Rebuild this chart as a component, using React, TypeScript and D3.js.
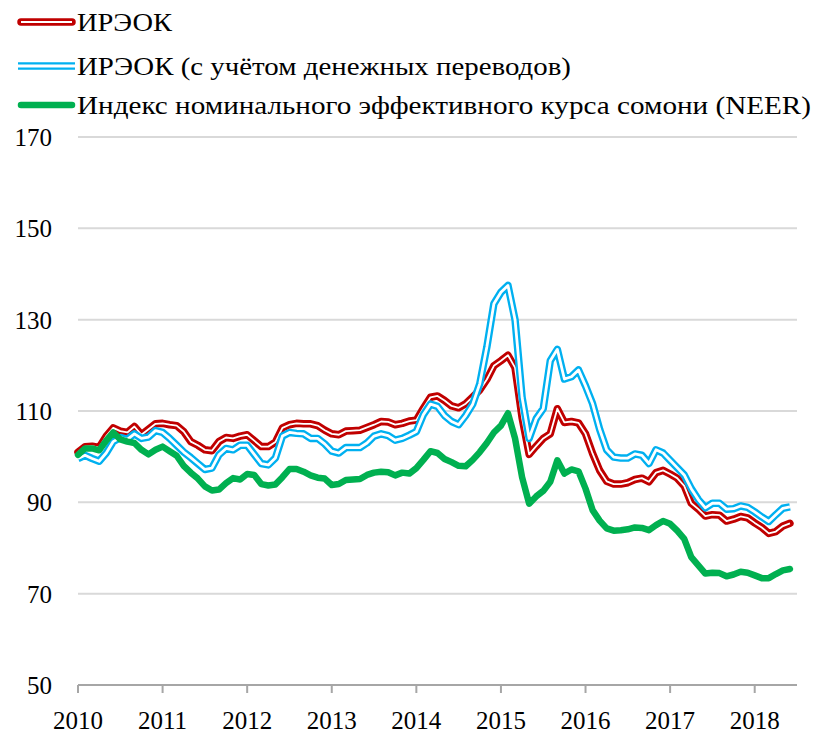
import React from "react";
import * as d3 from "d3";

// monthly data, Jan 2010 .. Jun 2018
const years = ["2010", "2011", "2012", "2013", "2014", "2015", "2016", "2017", "2018"];
const yTicks = [50, 70, 90, 110, 130, 150, 170];

const reer = [
  101, 102.2, 102.3, 102, 104.5, 106.3, 105.6, 105.3, 106.6, 104.8, 106, 107.2,
  107.3, 107, 106.8, 105.5, 103.3, 102.5, 101.5, 101.3, 103.3, 104.2, 104, 104.5,
  104.8, 103.5, 102.2, 102.2, 103.2, 106.3, 107, 107.3, 107.2, 107.2, 106.8, 105.8,
  105, 104.8, 105.6, 105.7, 105.8, 106.4, 107, 107.7, 107.6, 107, 107.3, 107.8,
  108, 110.6, 113, 113.3, 112.3, 111.1, 110.7, 111.6, 113.1, 114.6, 116.9, 119.9,
  121, 122.2, 119.5, 108.5, 100.5, 102.3, 104, 105, 110.5, 107.5, 107.7, 107.4,
  105, 100.7, 97, 94.6, 94, 94, 94.3, 95, 95.3, 94.5, 96.5, 97,
  96.2, 95.3, 93.6, 89.8, 88.5, 87, 87.3, 87.2, 85.9, 86.3, 86.9, 86.6,
  85.5, 84.5, 83.2, 83.6, 84.8, 85.4,
];

const reerRemit = [
  99.6, 100.3, 99.6, 99, 100.8, 103.3, 104.2, 103.8, 105, 104, 104.3, 105.7,
  105.3, 104, 102.5, 101, 99.8, 98.5, 97.2, 97.5, 100.4, 101.8, 101.5, 102.5,
  102.5, 100.5, 98.5, 98.2, 99.7, 104.5, 105.3, 105.1, 105, 104, 104, 102.8,
  101.2, 100.8, 102, 102, 102, 103, 104.5, 105, 104.6, 103.6, 104, 104.7,
  105.5, 109.2, 111.5, 111, 109, 107.7, 107, 109, 111.5, 116, 124, 133.5,
  136, 137.5, 130, 113, 104, 108.3, 110.5, 121, 123.5, 117, 117.5, 119,
  115.5, 111.6, 106, 101.5, 99.9, 99.7, 99.7, 100.6, 100.3, 98.5, 101.5, 100.8,
  99.2, 97.6, 96, 93, 90.6, 88.8, 89.8, 89.8, 88.5, 88.6, 89.2, 88.9,
  87.9, 86.8, 85.8, 87.3, 88.7, 89,
];

const neer = [
  100.4, 101.8, 101.8, 101.4, 103.5, 105.3, 103.8, 103.3, 103, 101.5, 100.5, 101.5,
  102.2, 101.2, 100.2, 98, 96.5, 95.2, 93.5, 92.6, 92.8, 94.2, 95.3, 95,
  96.2, 96, 94, 93.7, 93.9, 95.5, 97.3, 97.3, 96.7, 95.9, 95.4, 95.2,
  93.8, 94, 94.9, 95, 95.1, 96, 96.5, 96.7, 96.6, 95.9, 96.5, 96.3,
  97.5, 99.3, 101.2, 100.8, 99.5, 98.8, 98, 97.9, 99.3, 101, 103, 105.3,
  106.8, 109.5, 104, 95.5, 89.7, 91.3, 92.5, 94.5, 99.2, 96.3, 97.2, 96.8,
  93, 88.3, 86, 84.3, 83.8, 83.9, 84.1, 84.5, 84.4, 83.9, 85, 85.9,
  85.3, 83.8, 82, 78, 76.2, 74.4, 74.6, 74.5, 73.8, 74.2, 74.8, 74.6,
  74, 73.4, 73.4, 74.3, 75.1, 75.4,
];

const legendLabels = [
  "ИРЭОК",
  "ИРЭОК (с учётом денежных переводов)",
  "Индекс номинального эффективного курса сомони (NEER)",
];
const legendWidths = [95, 494, 734];

const W = 817;
const H = 733;
const margin = { left: 78, right: 20, top: 137, bottom: 48 };
const font = "'Liberation Serif', 'Times New Roman', serif";

export default function App() {
  const x = d3.scaleLinear().domain([0, 102]).range([margin.left, W - margin.right]);
  const y = d3.scaleLinear().domain([50, 170]).range([H - margin.bottom, margin.top]);

  const line = d3
    .line<number>()
    .x((_, i) => x(i))
    .y((d) => y(d));

  const legendY = [22, 66, 105];
  const legendBase = [31, 75, 114];

  return (
    <svg
      width={W}
      height={H}
      style={{ position: "absolute", left: 0, top: 0, background: "#fff" }}
      fontFamily={font}
    >
      {/* gridlines */}
      {yTicks.slice(1).map((t) => (
        <line
          key={t}
          x1={x(0)}
          x2={x(102)}
          y1={y(t)}
          y2={y(t)}
          stroke="#d9d9d9"
          strokeWidth={2}
        />
      ))}
      {/* y labels */}
      {yTicks.map((t) => (
        <text key={t} x={52} y={y(t) + 9} textAnchor="end" fontSize={25} fill="#000">
          {t}
        </text>
      ))}
      {/* x axis */}
      <line x1={x(0)} x2={x(102)} y1={y(50)} y2={y(50)} stroke="#a6a6a6" strokeWidth={2} />
      {years.map((yr, k) => (
        <g key={yr}>
          <line
            x1={x(k * 12)}
            x2={x(k * 12)}
            y1={y(50)}
            y2={y(50) + 8}
            stroke="#a6a6a6"
            strokeWidth={2}
          />
          <text x={x(k * 12)} y={729} textAnchor="middle" fontSize={25} fill="#000">
            {yr}
          </text>
        </g>
      ))}

      {/* series */}
      <path d={line(reer) || ""} fill="none" stroke="#c00000" strokeWidth={7.5} strokeLinejoin="round" strokeLinecap="round" />
      <path d={line(reer) || ""} fill="none" stroke="#fff" strokeWidth={1.8} strokeLinejoin="round" />
      <path d={line(reerRemit) || ""} fill="none" stroke="#00b0f0" strokeWidth={7.5} strokeLinejoin="round" />
      <path d={line(reerRemit) || ""} fill="none" stroke="#fff" strokeWidth={2.8} strokeLinejoin="round" />
      <path d={line(neer) || ""} fill="none" stroke="#00b050" strokeWidth={6.5} strokeLinejoin="round" strokeLinecap="round" />

      {/* legend */}
      <line x1={21} x2={72} y1={legendY[0]} y2={legendY[0]} stroke="#c00000" strokeWidth={7.5} strokeLinecap="round" />
      <line x1={21} x2={72} y1={legendY[0]} y2={legendY[0]} stroke="#fff" strokeWidth={1.8} />
      <line x1={18} x2={75} y1={legendY[1]} y2={legendY[1]} stroke="#00b0f0" strokeWidth={7.5} />
      <line x1={18} x2={75} y1={legendY[1]} y2={legendY[1]} stroke="#fff" strokeWidth={2.8} />
      <line x1={21} x2={72} y1={legendY[2]} y2={legendY[2]} stroke="#00b050" strokeWidth={6.5} strokeLinecap="round" />
      {legendLabels.map((l, i) => (
        <text
          key={l}
          x={77}
          y={legendBase[i]}
          fontSize={26}
          fill="#000"
          textLength={legendWidths[i]}
          lengthAdjust="spacingAndGlyphs"
        >
          {l}
        </text>
      ))}
    </svg>
  );
}
